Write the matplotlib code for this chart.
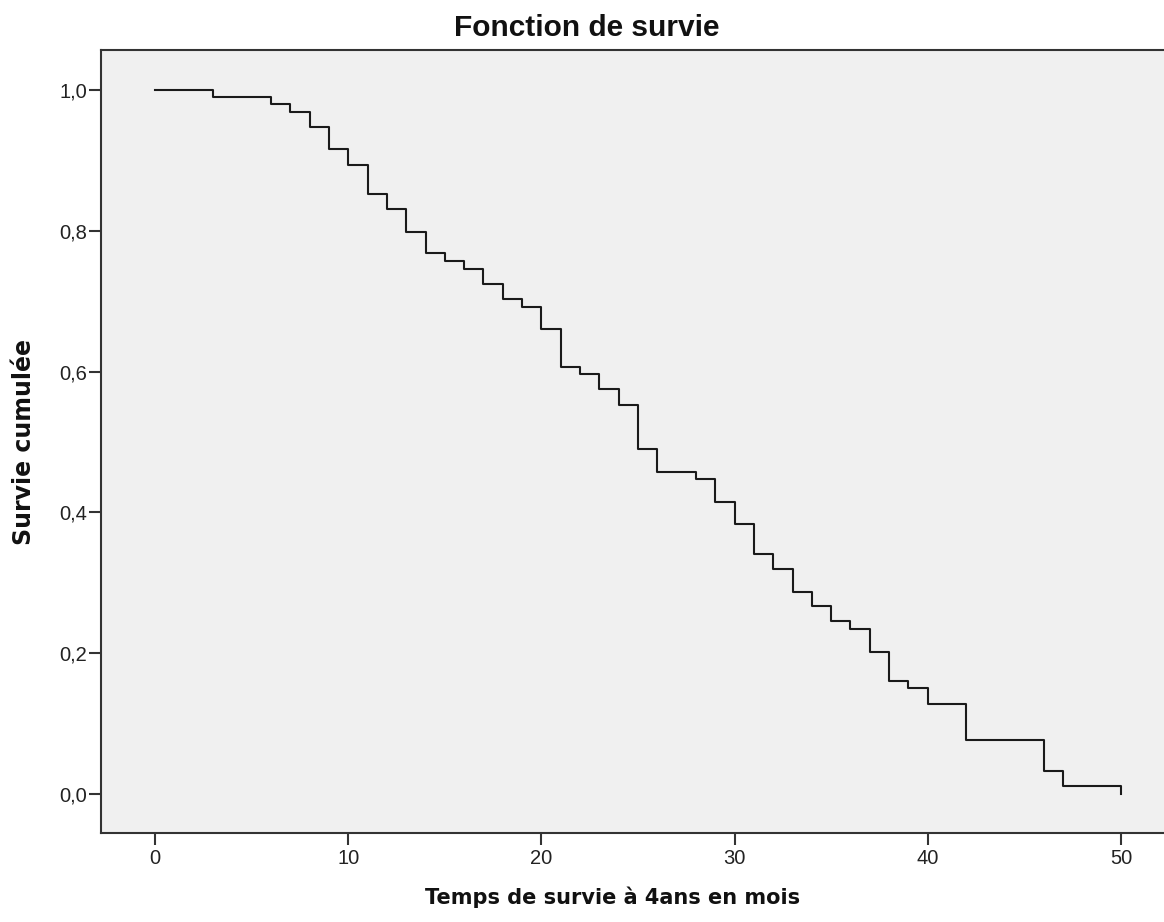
import matplotlib
matplotlib.use('Agg')
import matplotlib.pyplot as plt
import numpy as np

# Kaplan-Meier steps (month, cumulative survival after the drop)
months = [0, 3, 6, 7, 8, 9, 10, 11, 12, 13, 14, 15, 16, 17, 18, 19, 20, 21, 22, 23,
          24, 25, 26, 28, 29, 30, 31, 32, 33, 34, 35, 36, 37, 38, 39, 40, 42, 46, 47, 50]
survival = [1.0, 0.990, 0.980, 0.969, 0.948, 0.916, 0.893, 0.852, 0.831, 0.798,
            0.768, 0.757, 0.746, 0.724, 0.703, 0.692, 0.661, 0.607, 0.596, 0.575,
            0.553, 0.490, 0.458, 0.447, 0.415, 0.383, 0.341, 0.320, 0.287, 0.267,
            0.246, 0.234, 0.202, 0.160, 0.150, 0.128, 0.076, 0.032, 0.011, 0.0]

x_ticks = [0, 10, 20, 30, 40, 50]
y_ticks = [0.0, 0.2, 0.4, 0.6, 0.8, 1.0]
y_tick_labels = ['0,0', '0,2', '0,4', '0,6', '0,8', '1,0']

W, H = 1164, 922
fig = plt.figure(figsize=(W / 100, H / 100), dpi=100)
fig.patch.set_facecolor('white')

# axes box in pixels: left 101, top 50, bottom 833, right runs past the image edge
left, top, bottom, right = 101, 50, 833, 1175
ax = fig.add_axes([left / W, 1 - bottom / H, (right - left) / W, (bottom - top) / H])
ax.set_facecolor('#f0f0f0')

ax.step(months, survival, where='post', color='#1a1a1a', linewidth=1.5)

ax.set_xlim(-2.8, 52.8)
ax.set_ylim(-0.0554, 1.0568)

ax.set_xticks(x_ticks)
ax.set_yticks(y_ticks)
ax.set_yticklabels(y_tick_labels)

for lab in ax.get_xticklabels() + ax.get_yticklabels():
    lab.set_fontfamily('Liberation Sans')
    lab.set_fontsize(14.5)
    lab.set_color('#222222')

ax.tick_params(axis='both', direction='out', length=8.5, width=1.5, color='#333333')
ax.tick_params(axis='x', pad=3)
ax.tick_params(axis='y', pad=1.5)

for side in ['left', 'bottom', 'top']:
    ax.spines[side].set_color('#333333')
    ax.spines[side].set_linewidth(1.5)
ax.spines['right'].set_visible(False)

fig.text(587 / W, 1 - 28 / H, 'Fonction de survie', ha='center', va='center',
         family='Liberation Sans', fontweight='bold', fontsize=21.5, color='#111111')
fig.text(613 / W, 1 - 897 / H, 'Temps de survie à 4ans en mois', ha='center', va='center',
         family='DejaVu Sans', fontweight='bold', fontsize=15, color='#111111')
fig.text(24 / W, 1 - 442 / H, 'Survie cumulée', ha='center', va='center', rotation=90,
         family='DejaVu Sans', fontweight='bold', fontsize=17, color='#111111')

fig.savefig('out.png', dpi=100)
